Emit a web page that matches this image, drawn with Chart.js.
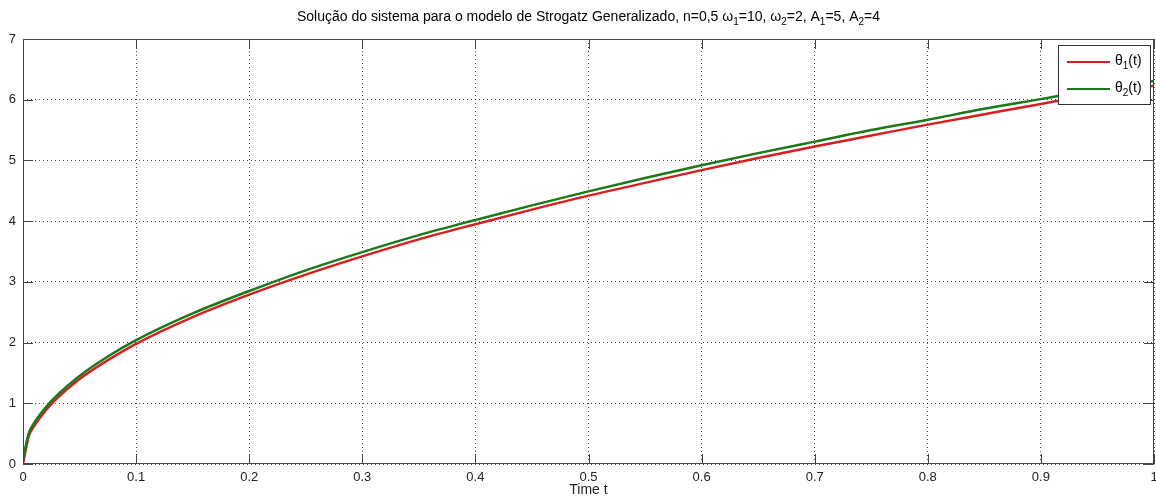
<!DOCTYPE html>
<html>
<head>
<meta charset="utf-8">
<script src="https://cdn.jsdelivr.net/npm/chart.js@4/dist/chart.umd.min.js"></script>
<style>
body { margin:0; background:#fff; }
#wrap { width:1156px; height:502px; position:relative; }
</style>
</head>
<body>
<div id="wrap"><canvas id="grafico" width="1156" height="502"></canvas></div>
<script>
// valores
var tempo  = [0, 0.005, 0.01, 0.02, 0.03, 0.05, 0.075, 0.1, 0.15, 0.2, 0.25, 0.3, 0.35, 0.4, 0.45, 0.5, 0.55, 0.6, 0.65, 0.7, 0.75, 0.8, 0.85, 0.9, 0.95, 1.0];
var theta1 = [0, 0.45, 0.63, 0.88, 1.08, 1.40, 1.71, 1.98, 2.42, 2.79, 3.12, 3.42, 3.70, 3.95, 4.19, 4.42, 4.63, 4.84, 5.04, 5.23, 5.41, 5.59, 5.76, 5.93, 6.09, 6.23];
var theta2 = [0.08, 0.50, 0.68, 0.93, 1.13, 1.45, 1.77, 2.04, 2.48, 2.85, 3.19, 3.49, 3.77, 4.02, 4.26, 4.49, 4.71, 4.92, 5.12, 5.31, 5.50, 5.67, 5.85, 6.01, 6.17, 6.31];
var xTicks = [0, 0.1, 0.2, 0.3, 0.4, 0.5, 0.6, 0.7, 0.8, 0.9, 1];
var yTicks = [0, 1, 2, 3, 4, 5, 6, 7];

var familia = '"Liberation Sans", Arial, sans-serif';

function pontos(ys) {
  var p = [];
  for (var i = 0; i < tempo.length; i++) p.push({x: tempo[i], y: ys[i]});
  return p;
}

// escreve texto com partes subscritas: [[texto, sub?], ...]
function textoSub(ctx, partes, x, y, alinhar, tam) {
  var fonte = tam + 'px ' + familia;
  var fsub = Math.round(tam * 0.72) + 'px ' + familia;
  var total = 0;
  partes.forEach(function(p) { ctx.font = p[1] ? fsub : fonte; total += ctx.measureText(p[0]).width; });
  var cx = alinhar == 'center' ? x - total / 2 : x;
  ctx.textAlign = 'left';
  ctx.textBaseline = 'middle';
  partes.forEach(function(p) {
    ctx.font = p[1] ? fsub : fonte;
    ctx.fillText(p[0], cx, p[1] ? y + tam * 0.35 : y);
    cx += ctx.measureText(p[0]).width;
  });
}

var moldura = {
  id: 'moldura',
  afterDraw: function(chart) {
    var ctx = chart.ctx, a = chart.chartArea;
    var sx = chart.scales.x, sy = chart.scales.y;
    ctx.save();
    ctx.strokeStyle = '#444';
    ctx.lineWidth = 1;
    ctx.strokeRect(a.left + 0.5, a.top + 0.5, a.right - a.left - 1, a.bottom - a.top - 1);
    ctx.beginPath();
    xTicks.forEach(function(v) {
      var px = Math.round(sx.getPixelForValue(v)) + 0.5;
      ctx.moveTo(px, a.bottom); ctx.lineTo(px, a.bottom - 10);
      ctx.moveTo(px, a.top); ctx.lineTo(px, a.top + 10);
    });
    yTicks.forEach(function(v) {
      var py = Math.round(sy.getPixelForValue(v)) + 0.5;
      ctx.moveTo(a.left, py); ctx.lineTo(a.left + 10, py);
      ctx.moveTo(a.right, py); ctx.lineTo(a.right - 10, py);
    });
    ctx.stroke();

    // titulo
    ctx.fillStyle = '#000';
    textoSub(ctx, [['Solução do sistema para o modelo de Strogatz Generalizado, n=0,5 ω'], ['1', true], ['=10, ω'], ['2', true], ['=2, A'], ['1', true], ['=5, A'], ['2', true], ['=4']], (a.left + a.right) / 2, 17, 'center', 14);

    // legenda
    var lx = 1058, ly = 45, lw = 92, lh = 59;
    ctx.fillStyle = '#fff';
    ctx.fillRect(lx, ly, lw, lh);
    ctx.strokeStyle = '#333';
    ctx.strokeRect(lx + 0.5, ly + 0.5, lw, lh);
    var cores = ['#d42020', '#1a7a1a'];
    var nomes = ['1', '2'];
    for (var i = 0; i < 2; i++) {
      var yy = ly + 17 + i * 27;
      ctx.strokeStyle = cores[i];
      ctx.lineWidth = 2;
      ctx.beginPath(); ctx.moveTo(lx + 9, yy); ctx.lineTo(lx + 52, yy); ctx.stroke();
      ctx.fillStyle = '#000';
      textoSub(ctx, [['θ'], [nomes[i], true], ['(t)']], lx + 57, yy - 1, 'left', 14);
    }
    ctx.restore();
  }
};

var ctx = document.getElementById('grafico').getContext('2d');
new Chart(ctx, {
  type: 'line',
  data: {
    datasets: [
      { label: 'θ1(t)', data: pontos(theta1), borderColor: '#d42020', borderWidth: 2.5, pointRadius: 0, cubicInterpolationMode: 'monotone', order: 1 },
      { label: 'θ2(t)', data: pontos(theta2), borderColor: '#1a7a1a', borderWidth: 2.5, pointRadius: 0, cubicInterpolationMode: 'monotone', order: 0 }
    ]
  },
  options: {
    responsive: false,
    animation: false,
    layout: { padding: { top: 39, right: 2, left: 0, bottom: 0 } },
    plugins: { legend: { display: false }, title: { display: false }, tooltip: { enabled: false } },
    scales: {
      x: {
        type: 'linear', min: 0, max: 1,
        afterFit: function(s) { s.height = 38; s.paddingLeft = 0; s.paddingRight = 0; },
        afterBuildTicks: function(s) { s.ticks = xTicks.map(function(v) { return {value: v}; }); },
        ticks: { color: '#222', font: { family: familia, size: 13 }, padding: 6, maxRotation: 0, autoSkip: false,
                 callback: function(v) { return String(v); } },
        grid: { color: 'rgba(0,0,0,0.7)', borderDash: [1, 3], drawTicks: false },
        border: { display: false, dash: [1, 3] },
        title: { display: true, text: 'Time t', color: '#222', font: { family: familia, size: 14 }, padding: { top: 0, bottom: 3 } }
      },
      y: {
        min: 0, max: 7,
        afterFit: function(s) { s.width = 23; s.paddingTop = 0; s.paddingBottom = 0; },
        afterBuildTicks: function(s) { s.ticks = yTicks.map(function(v) { return {value: v}; }); },
        ticks: { color: '#222', font: { family: familia, size: 13 }, padding: 7, autoSkip: false },
        grid: { color: 'rgba(0,0,0,0.7)', borderDash: [1, 3], drawTicks: false },
        border: { display: false, dash: [1, 3] }
      }
    }
  },
  plugins: [moldura]
});
</script>
</body>
</html>
